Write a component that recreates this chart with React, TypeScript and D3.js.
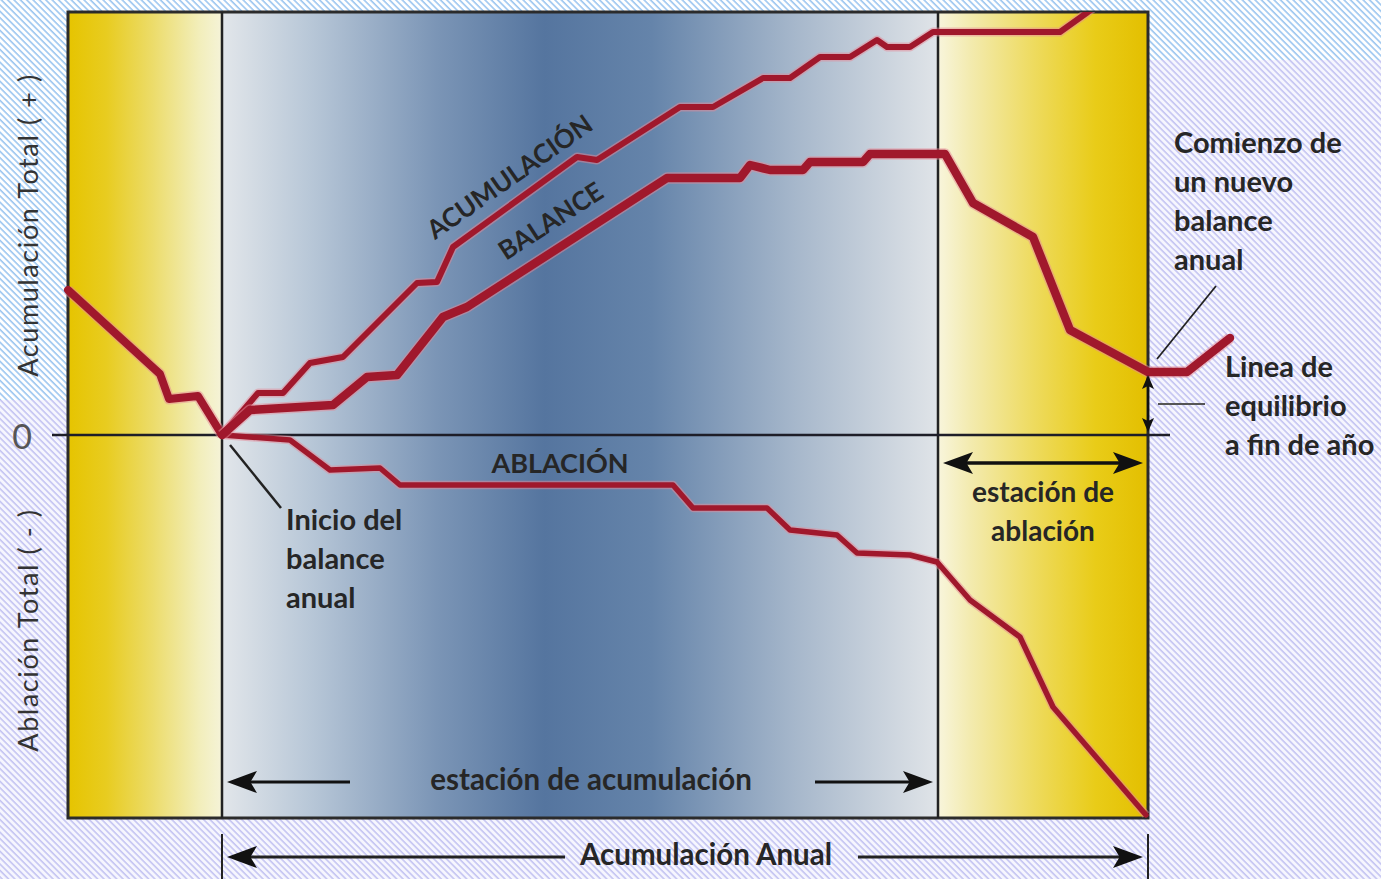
import React from "react";
import * as d3 from "d3";

// x: position within the year (arbitrary units), y: cumulative mass (arbitrary units)
const seasonEdges = [0, 154, 870, 1080]; // box start, start of balance year, end of accumulation season, end of year
const yDomain = [-383, 423];
const xDomain = [0, 1080];

const prevBalanceX = [0, 92, 101, 130, 154];
const prevBalanceY = [145, 61, 36, 39, 0];

const accumX = [154, 190, 215, 242, 275, 349, 369, 385, 509, 529, 612, 645, 695, 722, 752, 782, 809, 819, 842, 865, 992, 1020, 1042];
const accumY = [0, 42, 42, 72, 78, 152, 153, 188, 278, 275, 328, 328, 357, 357, 378, 378, 395, 388, 388, 403, 403, 423, 440];

const balanceX = [154, 182, 265, 299, 329, 375, 399, 599, 672, 682, 702, 735, 742, 795, 802, 877, 905, 965, 1002, 1080, 1119, 1162];
const balanceY = [0, 25, 30, 58, 60, 118, 128, 257, 257, 270, 265, 265, 273, 273, 281, 281, 232, 198, 105, 63, 63, 97];

const ablationX = [154, 222, 262, 312, 332, 605, 625, 699, 722, 769, 789, 842, 869, 902, 952, 985, 1078];
const ablationY = [0, -5, -35, -33, -50, -50, -73, -73, -95, -100, -118, -120, -127, -165, -202, -272, -380];

const yAxisLabels = ["Acumulación Total ( + )", "Ablación Total ( - )"];
const zeroLabel = "0";
const curveLabels = ["ACUMULACIÓN", "BALANCE", "ABLACIÓN"];
const startLabel = ["Inicio del", "balance", "anual"];
const newLabel = ["Comienzo de", "un nuevo", "balance", "anual"];
const eqLabel = ["Linea de", "equilibrio", "a fin de año"];
const ablSeasonLabel = ["estación de", "ablación"];
const accSeasonLabel = "estación de acumulación";
const annualLabel = "Acumulación Anual";

const W = 1381;
const H = 879;

export default function App() {
  const x = d3.scaleLinear().domain(xDomain).range([68, 1148]);
  const y = d3.scaleLinear().domain(yDomain).range([818, 12]);
  const line = d3
    .line<[number, number]>()
    .x((d) => x(d[0]))
    .y((d) => y(d[1]))
    .curve(d3.curveLinear);
  const zip = (a: number[], b: number[]) => a.map((v, i) => [v, b[i]] as [number, number]);

  const x0 = x(seasonEdges[0]);
  const x1 = x(seasonEdges[1]);
  const x2 = x(seasonEdges[2]);
  const x3 = x(seasonEdges[3]);
  const yTop = y(yDomain[1]);
  const yBot = y(yDomain[0]);
  const y0 = y(0);

  const red = "#a0182c";
  const txt = "#262626";
  const font = "Lato, 'Open Sans', sans-serif";

  const redLine = (d: string, w: number, clip?: string) => (
    <g clipPath={clip}>
      <path d={d} fill="none" stroke="#e58a98" strokeOpacity={0.5} strokeWidth={w + 3} strokeLinejoin="round" />
      <path d={d} fill="none" stroke={red} strokeWidth={w} strokeLinejoin="round" strokeLinecap="round" />
    </g>
  );

  // arrowhead polygon pointing to (px,py) in direction (dx,dy)
  const head = (px: number, py: number, dx: number, dy: number, len = 30, half = 11) => {
    const bx = px - dx * len;
    const by = py - dy * len;
    const nx = -dy;
    const ny = dx;
    const mx = px - dx * len * 0.78;
    const my = py - dy * len * 0.78;
    return `M${px},${py} L${bx + nx * half},${by + ny * half} L${mx},${my} L${bx - nx * half},${by - ny * half} Z`;
  };

  const balEndY = y(balanceY[balanceX.indexOf(1080)]);

  return (
    <svg width={W} height={H} style={{ position: "absolute", left: 0, top: 0 }} fontFamily={font}>
      <defs>
        <pattern id="hatchBlue" patternUnits="userSpaceOnUse" width={4.5} height={4.5} patternTransform="rotate(-45)">
          <rect width={4.5} height={4.5} fill="#ffffff" />
          <line x1={1} y1={0} x2={1} y2={4.5} stroke="#9cc6f0" strokeWidth={1.6} />
        </pattern>
        <pattern id="hatchLav" patternUnits="userSpaceOnUse" width={4.5} height={4.5} patternTransform="rotate(-45)">
          <rect width={4.5} height={4.5} fill="#f6f6fe" />
          <line x1={1} y1={0} x2={1} y2={4.5} stroke="#c4c4f2" strokeWidth={1.6} />
        </pattern>
        <linearGradient id="yelL" x1="0" x2="1" y1="0" y2="0">
          <stop offset="0" stopColor="#e6c400" />
          <stop offset="0.25" stopColor="#e8cc20" />
          <stop offset="0.55" stopColor="#ecdc6a" />
          <stop offset="0.85" stopColor="#f2eeba" />
          <stop offset="1" stopColor="#f5f3d8" />
        </linearGradient>
        <linearGradient id="yelR" x1="0" x2="1" y1="0" y2="0">
          <stop offset="0" stopColor="#f8f5dc" />
          <stop offset="0.15" stopColor="#f3ebb0" />
          <stop offset="0.45" stopColor="#eedb60" />
          <stop offset="0.75" stopColor="#e9cc18" />
          <stop offset="1" stopColor="#e3bf00" />
        </linearGradient>
        <linearGradient id="blue" x1="0" x2="1" y1="0" y2="0">
          <stop offset="0" stopColor="#e2e6ea" />
          <stop offset="0.12" stopColor="#b9c8d8" />
          <stop offset="0.3" stopColor="#7b95b6" />
          <stop offset="0.45" stopColor="#55759f" />
          <stop offset="0.6" stopColor="#6584aa" />
          <stop offset="0.8" stopColor="#a6b7cb" />
          <stop offset="1" stopColor="#e0e4e8" />
        </linearGradient>
        <clipPath id="boxClip">
          <rect x={x0} y={yTop} width={x3 - x0} height={yBot - yTop} />
        </clipPath>
      </defs>

      {/* background hatching */}
      <rect x={0} y={0} width={W} height={H} fill="url(#hatchLav)" />
      <path d={`M0,0 H${W} V60 H${x3} V${yTop} H${x0} V400 H0 Z`} fill="url(#hatchBlue)" />

      {/* season panels */}
      <rect x={x0} y={yTop} width={x1 - x0} height={yBot - yTop} fill="url(#yelL)" />
      <rect x={x1} y={yTop} width={x2 - x1} height={yBot - yTop} fill="url(#blue)" />
      <rect x={x2} y={yTop} width={x3 - x2} height={yBot - yTop} fill="url(#yelR)" />

      {/* frame and dividers */}
      <rect x={x0} y={yTop} width={x3 - x0} height={yBot - yTop} fill="none" stroke="#2b2b2b" strokeWidth={3} />
      <line x1={x1} x2={x1} y1={yTop} y2={yBot} stroke="#222" strokeWidth={2.5} />
      <line x1={x2} x2={x2} y1={yTop} y2={yBot} stroke="#222" strokeWidth={2.5} />
      <line x1={x(-16)} x2={x(1102)} y1={y0} y2={y0} stroke="#1e1e28" strokeWidth={2.5} />

      {/* curves */}
      {redLine(line(zip(prevBalanceX, prevBalanceY)) || "", 8)}
      {redLine(line(zip(ablationX, ablationY)) || "", 5.5)}
      {redLine(line(zip(accumX, accumY)) || "", 6, "url(#boxClip)")}
      {redLine(line(zip(balanceX, balanceY)) || "", 8.5)}

      {/* curve labels */}
      <text transform={`translate(511,179) rotate(-35)`} textAnchor="middle" dominantBaseline="middle" fontSize={26} fontWeight={700} fill={txt}>
        {curveLabels[0]}
      </text>
      <text transform={`translate(552,223) rotate(-33)`} textAnchor="middle" dominantBaseline="middle" fontSize={26} fontWeight={700} fill={txt}>
        {curveLabels[1]}
      </text>
      <text x={560} y={466} textAnchor="middle" dominantBaseline="middle" fontSize={27} fontWeight={700} fill={txt}>
        {curveLabels[2]}
      </text>

      {/* y axis */}
      <text x={22} y={y0} textAnchor="middle" dominantBaseline="central" fontSize={34} fill="#555">
        {zeroLabel}
      </text>
      <text transform={`translate(31,225) rotate(-90)`} textAnchor="middle" dominantBaseline="middle" fontSize={27} fontWeight={400} fill="#333" letterSpacing={1.6}>
        {yAxisLabels[0]}
      </text>
      <text transform={`translate(31,630) rotate(-90)`} textAnchor="middle" dominantBaseline="middle" fontSize={27} fontWeight={400} fill="#333" letterSpacing={1.6}>
        {yAxisLabels[1]}
      </text>

      {/* start annotation */}
      <line x1={x1 + 8} y1={y0 + 10} x2={281} y2={508} stroke="#222" strokeWidth={2.5} />
      {startLabel.map((t, i) => (
        <text key={t} x={286} y={523 + i * 39} dominantBaseline="middle" fontSize={29} fontWeight={700} fill={txt}>
          {t}
        </text>
      ))}

      {/* new balance annotation */}
      <line x1={1157} y1={359} x2={1216} y2={286} stroke="#222" strokeWidth={1.8} />
      {newLabel.map((t, i) => (
        <text key={t + i} x={1174} y={146 + i * 38.7} dominantBaseline="middle" fontSize={29} fontWeight={700} fill={txt}>
          {t}
        </text>
      ))}

      {/* equilibrium annotation */}
      <line x1={x3} y1={balEndY + 12} x2={x3} y2={y0 - 12} stroke="#111" strokeWidth={2} />
      <path d={head(x3, balEndY + 3, 0, -1, 14, 6)} fill="#111" />
      <path d={head(x3, y0 - 3, 0, 1, 14, 6)} fill="#111" />
      <line x1={1158} y1={404} x2={1205} y2={404} stroke="#555" strokeWidth={2} />
      {eqLabel.map((t, i) => (
        <text key={t} x={1225} y={370 + i * 39} dominantBaseline="middle" fontSize={29} fontWeight={700} fill={txt}>
          {t}
        </text>
      ))}

      {/* ablation season */}
      <line x1={x2 + 20} y1={463} x2={x3 - 20} y2={463} stroke="#111" strokeWidth={3.5} />
      <path d={head(x2 + 5, 463, -1, 0)} fill="#111" />
      <path d={head(x3 - 5, 463, 1, 0)} fill="#111" />
      {ablSeasonLabel.map((t, i) => (
        <text key={t} x={(x2 + x3) / 2} y={495 + i * 39} textAnchor="middle" dominantBaseline="middle" fontSize={28} fontWeight={700} fill={txt}>
          {t}
        </text>
      ))}

      {/* accumulation season */}
      <line x1={350} y1={782} x2={x1 + 20} y2={782} stroke="#111" strokeWidth={3} />
      <path d={head(x1 + 5, 782, -1, 0)} fill="#111" />
      <line x1={815} y1={782} x2={x2 - 20} y2={782} stroke="#111" strokeWidth={3} />
      <path d={head(x2 - 5, 782, 1, 0)} fill="#111" />
      <text x={591} y={782} textAnchor="middle" dominantBaseline="middle" fontSize={29.5} fontWeight={700} fill={txt}>
        {accSeasonLabel}
      </text>

      {/* annual */}
      <line x1={x1} x2={x1} y1={834} y2={879} stroke="#222" strokeWidth={2} />
      <line x1={x3} x2={x3} y1={834} y2={879} stroke="#222" strokeWidth={2} />
      <line x1={565} y1={857} x2={x1 + 20} y2={857} stroke="#222" strokeWidth={3} />
      <path d={head(x1 + 5, 857, -1, 0)} fill="#111" />
      <line x1={858} y1={857} x2={x3 - 20} y2={857} stroke="#222" strokeWidth={3} />
      <path d={head(x3 - 5, 857, 1, 0)} fill="#111" />
      <text x={706} y={857} textAnchor="middle" dominantBaseline="middle" fontSize={29.5} fontWeight={700} fill={txt}>
        {annualLabel}
      </text>
    </svg>
  );
}
